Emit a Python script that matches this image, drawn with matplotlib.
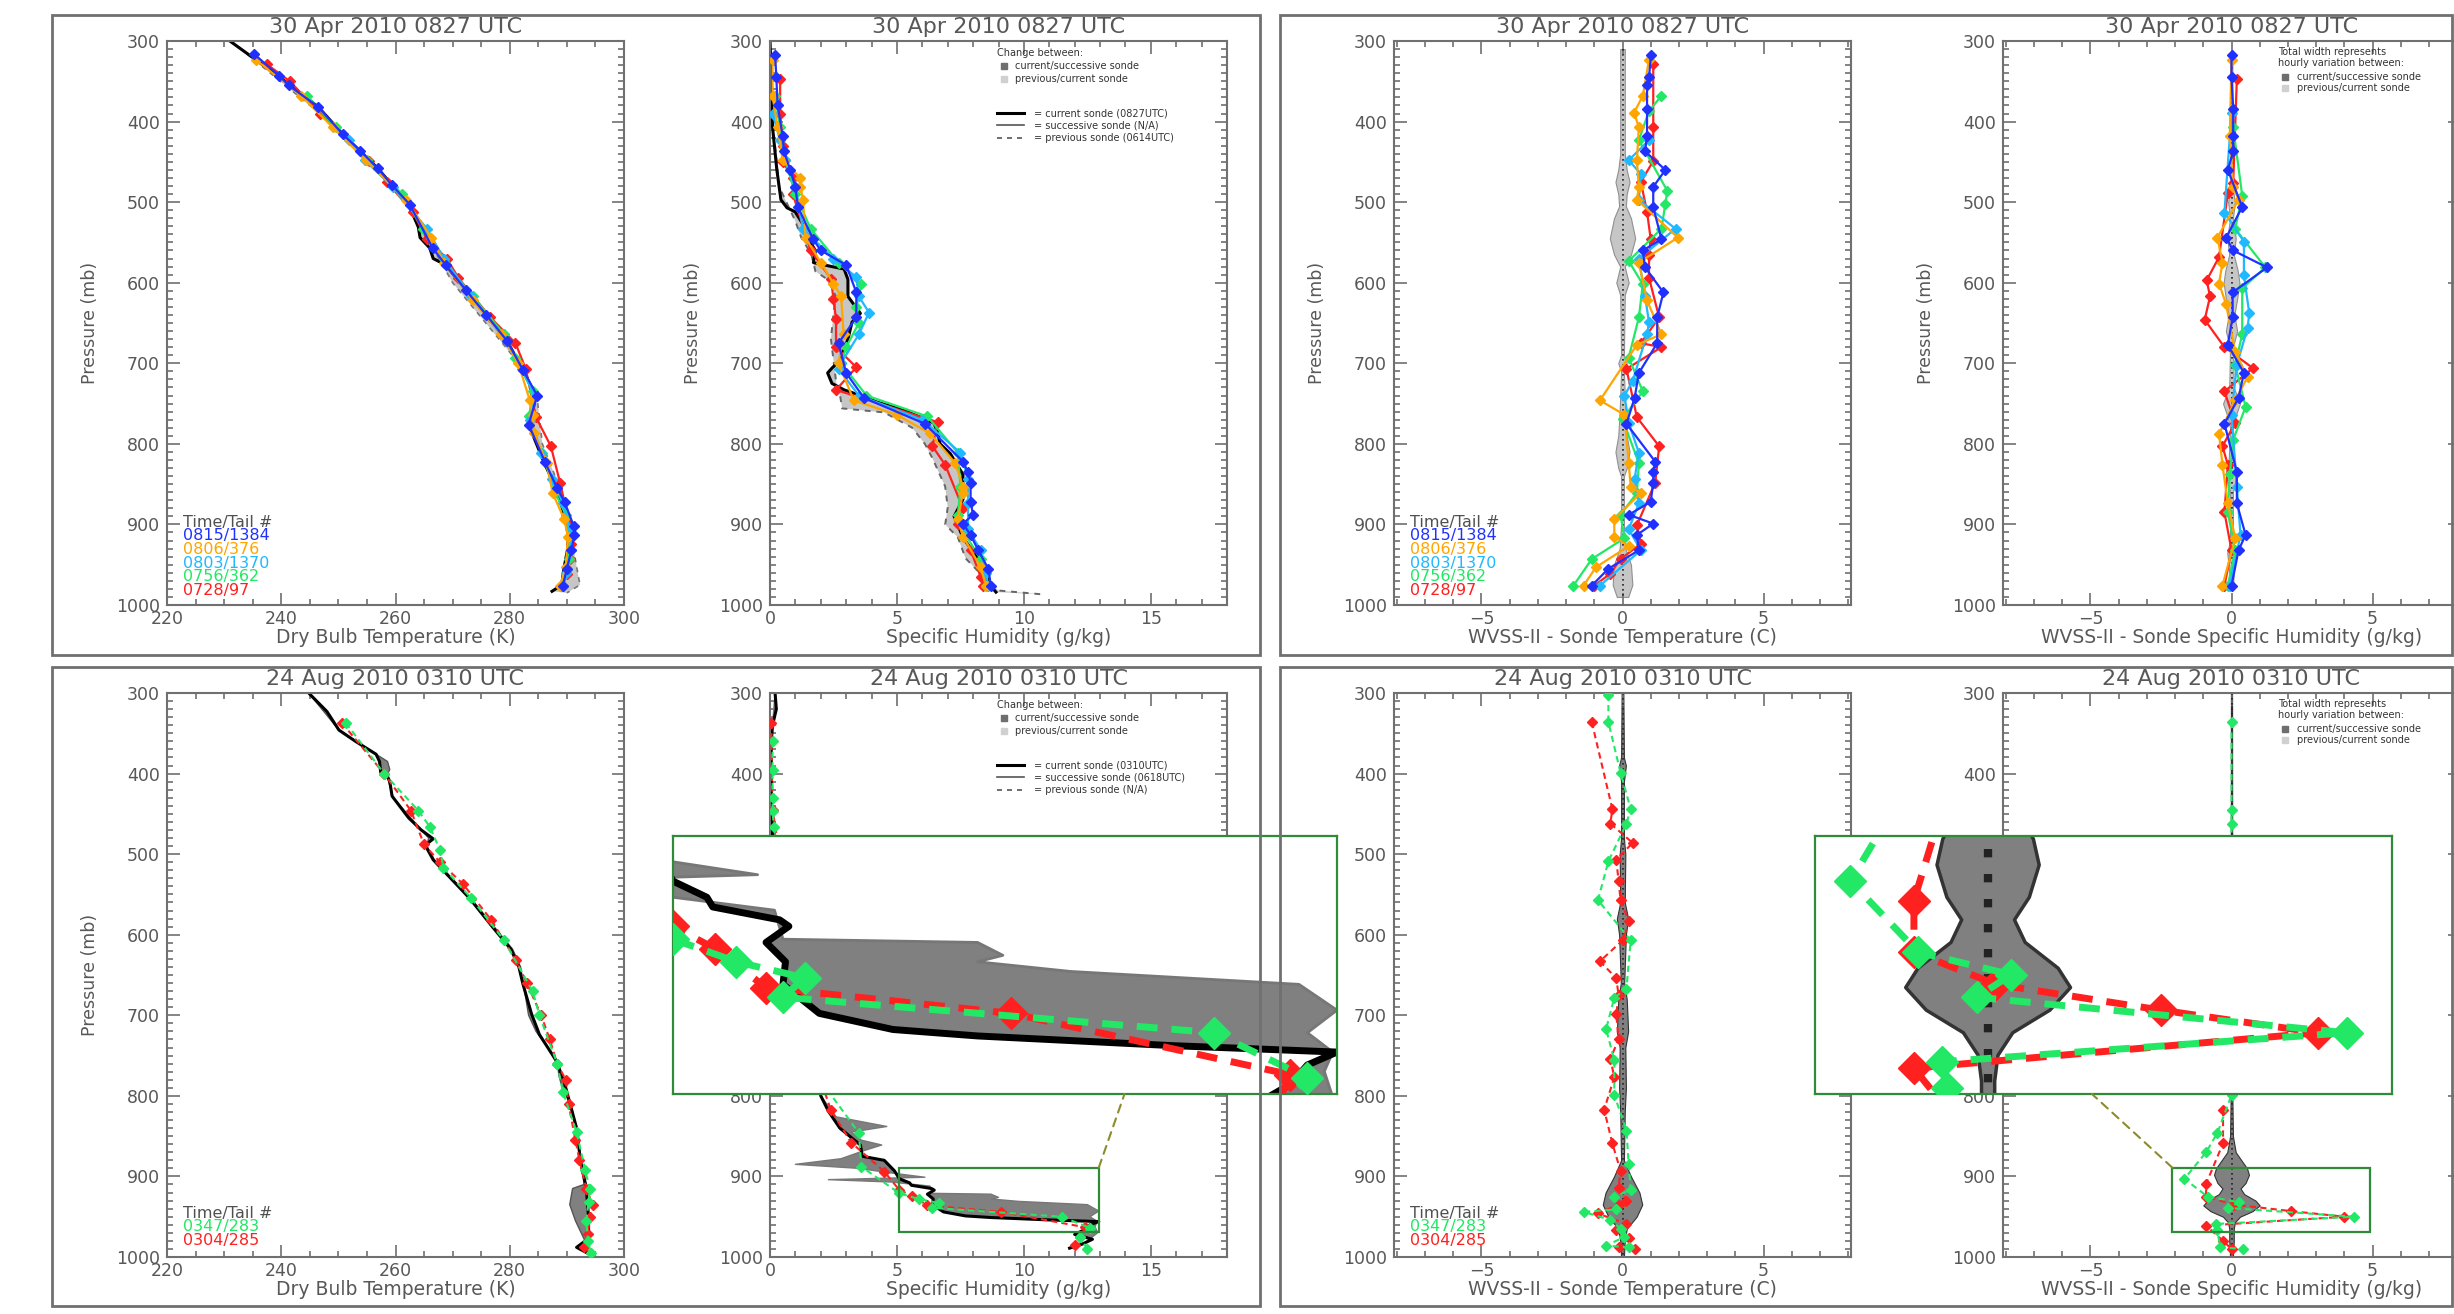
import numpy as np
import matplotlib
matplotlib.use('Agg')
import matplotlib.pyplot as plt
from matplotlib.patches import Rectangle, ConnectionPatch
from matplotlib.ticker import MultipleLocator

plt.rcParams['font.family'] = ['DejaVu Sans']

W, H = 2454, 1314
TXT = '#585858'
EDGE = '#707070'
C_BLUE, C_ORANGE, C_CYAN, C_GREEN, C_RED = '#2030ff', '#ffa500', '#20b8ff', '#22e866', '#ff2020'
LIGHT = '#c6c6c6'
DARK = '#808080'
BOXGREEN = '#2e8b3a'

# ---------------- 30 Apr 2010 0827 UTC ----------------
apr_title = '30 Apr 2010 0827 UTC'
apr_tails = ['0815/1384', '0806/376', '0803/1370', '0756/362', '0728/97']
apr_colors = [C_BLUE, C_ORANGE, C_CYAN, C_GREEN, C_RED]

# sonde temperature (K)
apr_cur_t_p = [300, 343, 382, 416, 436, 458, 479, 503, 531, 544, 557, 570, 578, 609, 640, 672, 708, 740, 766, 776, 823, 855, 902, 928, 954, 975, 983]
apr_cur_t = [231.0, 239.4, 246.5, 250.8, 253.7, 256.9, 259.4, 262.3, 264.0, 264.3, 266.0, 266.6, 268.8, 272.3, 275.9, 279.5, 282.3, 284.5, 283.9, 283.3, 286.0, 288.1, 290.2, 290.2, 289.5, 289.1, 287.4]
apr_prev_t_p = [300, 400, 500, 600, 700, 750, 800, 850, 900, 940, 960, 975, 985]
apr_prev_t = [231.2, 248.5, 262.0, 270.0, 281.6, 284.9, 285.7, 288.5, 290.8, 291.4, 291.9, 292.3, 290.0]

# aircraft temperature (K)
apr_t_blue_p = [316, 343, 355, 382, 416, 436, 458, 479, 503, 557, 578, 609, 640, 672, 708, 740, 776, 823, 855, 872, 902, 913, 932, 955, 976]
apr_t_blue = [235.2, 239.6, 241.3, 246.5, 250.8, 253.8, 256.9, 259.4, 262.5, 266.5, 268.8, 272.3, 275.9, 279.5, 282.3, 284.8, 283.3, 286.2, 288.3, 289.6, 291.2, 291.3, 290.8, 290.0, 289.3]
apr_t_orange_p = [323, 368, 407, 448, 497, 544, 575, 622, 664, 700, 746, 764, 787, 824, 861, 893, 915, 953, 976]
apr_t_orange = [235.5, 243.5, 249.0, 254.8, 261.8, 266.3, 268.5, 273.5, 278.5, 281.5, 283.5, 284.0, 284.3, 286.5, 287.5, 289.5, 290.2, 289.8, 288.8]
apr_t_cyan_p = [423, 448, 481, 533, 570, 617, 664, 707, 740, 770, 811, 843, 874, 906, 932, 960, 976]
apr_t_cyan = [251.8, 254.6, 259.5, 265.5, 268.5, 273.2, 278.4, 282.1, 284.4, 283.6, 285.5, 287.4, 289.3, 290.6, 290.8, 289.9, 289.4]
apr_t_green_p = [368, 407, 448, 490, 533, 575, 617, 664, 693, 735, 766, 811, 861, 888, 917, 943, 976]
apr_t_green = [244.5, 249.5, 255.0, 261.2, 264.8, 268.7, 273.5, 279.0, 281.0, 284.0, 283.4, 285.6, 288.0, 289.8, 290.5, 290.3, 289.0]
apr_t_red_p = [329, 350, 390, 449, 475, 512, 546, 570, 594, 643, 675, 707, 767, 803, 848, 901, 924, 943, 961, 976]
apr_t_red = [237.5, 241.5, 246.8, 255.4, 258.5, 263.0, 265.5, 269.0, 271.0, 276.6, 281.0, 282.8, 284.6, 287.2, 288.8, 290.5, 290.8, 290.5, 290.0, 289.2]

# sonde specific humidity (g/kg)
apr_cur_q_p = [300, 355, 407, 460, 497, 507, 512, 528, 544, 560, 575, 580, 583, 596, 617, 638, 649, 670, 696, 706, 712, 725, 733, 740, 748, 759, 774, 785, 800, 812, 838, 869, 890, 916, 937, 958, 973, 984]
apr_cur_q = [0.0, 0.06, 0.1, 0.27, 0.43, 0.67, 0.99, 1.31, 1.47, 1.79, 1.71, 2.44, 2.92, 3.07, 3.07, 3.56, 3.23, 3.07, 2.76, 2.44, 2.27, 2.44, 2.92, 3.56, 4.2, 5.33, 6.45, 6.6, 6.7, 7.1, 7.6, 7.6, 7.25, 7.6, 8.06, 8.5, 8.6, 8.9]
apr_prev_q_p = [300, 400, 460, 480, 523, 544, 565, 586, 596, 617, 638, 670, 722, 740, 756, 761, 780, 800, 818, 832, 853, 879, 900, 916, 942, 968, 982, 987]
apr_prev_q = [0.0, 0.1, 0.3, 0.35, 0.99, 1.23, 1.63, 1.79, 2.27, 2.6, 2.5, 2.4, 2.6, 2.76, 2.84, 4.5, 5.6, 6.1, 6.4, 6.6, 6.9, 7.0, 6.9, 7.4, 7.7, 8.5, 9.0, 10.8]

# aircraft specific humidity (g/kg)
apr_q_blue_p = [317, 345, 380, 418, 437, 460, 481, 506, 546, 560, 578, 612, 643, 675, 712, 743, 775, 822, 835, 848, 872, 888, 899, 913, 932, 955, 976]
apr_q_blue = [0.2, 0.25, 0.3, 0.5, 0.55, 0.8, 1.0, 1.1, 1.7, 2.0, 3.0, 3.4, 3.4, 2.7, 3.0, 3.7, 6.1, 7.6, 7.8, 7.9, 7.9, 8.0, 7.6, 7.9, 8.2, 8.6, 8.7]
apr_q_orange_p = [323, 368, 407, 448, 470, 481, 497, 544, 575, 601, 617, 664, 700, 746, 764, 787, 824, 853, 861, 893, 915, 953, 976]
apr_q_orange = [0.1, 0.1, 0.3, 0.5, 1.2, 1.2, 1.3, 1.4, 2.0, 2.5, 2.8, 2.9, 2.7, 3.3, 5.0, 6.3, 7.3, 7.6, 7.6, 7.4, 7.6, 8.3, 8.5]
apr_q_cyan_p = [390, 423, 448, 481, 533, 570, 593, 617, 637, 664, 700, 707, 740, 770, 811, 843, 874, 906, 932, 960, 976]
apr_q_cyan = [0.1, 0.4, 0.6, 1.0, 1.3, 2.5, 3.4, 3.5, 3.9, 3.5, 2.8, 2.7, 3.5, 6.0, 7.5, 7.8, 7.8, 7.8, 8.3, 8.5, 8.6]
apr_q_green_p = [368, 407, 448, 490, 533, 575, 602, 630, 650, 680, 700, 740, 766, 811, 853, 888, 913, 943, 976]
apr_q_green = [0.2, 0.4, 0.6, 1.0, 1.6, 2.7, 3.6, 3.4, 3.5, 3.0, 2.8, 3.8, 6.2, 7.4, 7.5, 7.4, 7.7, 8.3, 8.5]
apr_q_red_p = [347, 390, 430, 450, 470, 490, 560, 595, 620, 645, 680, 705, 733, 773, 803, 826, 880, 900, 932, 965, 976]
apr_q_red = [0.4, 0.4, 0.5, 0.5, 0.9, 0.9, 1.6, 2.4, 2.5, 2.6, 2.6, 3.4, 2.6, 6.6, 6.4, 6.9, 7.6, 7.4, 7.9, 8.3, 8.4]

# WVSS-II minus sonde temperature (C)
apr_dt_blue_p = [317, 345, 355, 384, 418, 437, 460, 481, 506, 546, 560, 581, 612, 643, 675, 712, 743, 775, 822, 835, 848, 872, 888, 899, 913, 932, 955, 976]
apr_dt_blue = [1.01, 0.94, 0.87, 0.87, 0.87, 0.8, 1.52, 1.09, 1.09, 1.38, 0.72, 0.8, 1.45, 1.23, 1.23, 0.58, 0.43, 0.14, 1.16, 1.09, 1.09, 1.0, 0.22, 1.09, 0.51, 0.58, -0.5, -1.09]
apr_dt_orange_p = [323, 368, 389, 407, 448, 481, 497, 544, 575, 622, 664, 677, 746, 764, 824, 853, 861, 893, 915, 927, 953, 976]
apr_dt_orange = [0.94, 0.72, 0.41, 0.58, 0.51, 0.58, 0.51, 1.96, 0.58, 0.87, 1.38, 0.51, -0.8, 0.07, 0.22, 0.29, 0.65, -0.29, -0.29, 0.22, -0.94, -1.38]
apr_dt_cyan_p = [423, 448, 465, 497, 533, 570, 617, 649, 664, 722, 740, 774, 811, 843, 874, 906, 932, 976]
apr_dt_cyan = [0.94, 0.22, 0.65, 0.58, 1.88, 0.58, 0.8, 0.94, 0.87, 0.36, 0.07, 0.22, 0.58, 0.43, 0.58, 0.22, 0.65, -0.8]
apr_dt_green_p = [368, 387, 423, 486, 502, 533, 573, 602, 643, 693, 735, 769, 824, 861, 888, 917, 943, 976]
apr_dt_green = [1.38, 0.94, 0.58, 1.59, 1.52, 1.38, 0.22, 0.72, 0.58, 0.22, 0.72, 0.0, 0.58, 0.51, -0.07, 0.07, -1.09, -1.74]
apr_dt_red_p = [329, 407, 449, 475, 512, 546, 565, 594, 643, 675, 680, 707, 767, 803, 848, 901, 924, 943, 961, 976]
apr_dt_red = [1.09, 1.09, 1.09, 0.65, 0.87, 1.0, 0.94, 0.94, 1.3, 0.65, 1.38, 0.14, 0.51, 1.3, 1.16, 0.51, 0.65, -0.07, -0.43, -1.0]
apr_dt_band_p = [310, 440, 460, 475, 490, 505, 520, 545, 565, 580, 600, 615, 690, 700, 710, 760, 790, 810, 830, 840, 900, 930, 950, 975, 990]
apr_dt_band = [0.08, 0.08, 0.15, 0.25, 0.15, 0.12, 0.3, 0.45, 0.3, 0.08, 0.22, 0.08, 0.05, 0.15, 0.05, 0.1, 0.15, 0.25, 0.15, 0.05, 0.05, 0.1, 0.3, 0.35, 0.2]

# WVSS-II minus sonde specific humidity (g/kg)
apr_dq_blue_p = [317, 345, 384, 418, 437, 460, 506, 544, 560, 581, 612, 643, 677, 712, 743, 775, 835, 874, 913, 932, 976]
apr_dq_blue = [0.0, 0.0, 0.06, 0.06, 0.06, -0.13, 0.38, -0.19, 0.06, 1.26, 0.04, 0.04, -0.13, 0.44, 0.25, -0.25, 0.19, 0.19, 0.5, 0.25, 0.0]
apr_dq_orange_p = [323, 418, 481, 497, 544, 575, 601, 627, 686, 717, 746, 788, 826, 874, 917, 976]
apr_dq_orange = [0.0, -0.06, 0.06, 0.25, -0.5, -0.32, -0.44, -0.19, 0.13, 0.57, 0.13, -0.44, -0.32, -0.13, 0.13, -0.32]
apr_dq_cyan_p = [389, 513, 549, 591, 638, 656, 702, 764, 853, 913, 976]
apr_dq_cyan = [0.0, -0.25, 0.44, 0.44, 0.63, 0.57, 0.19, 0.0, 0.19, 0.32, -0.06]
apr_dq_green_p = [407, 492, 533, 581, 607, 664, 702, 754, 795, 838, 885, 932, 976]
apr_dq_green = [0.06, 0.38, 0.13, 1.2, 0.38, 0.38, 0.13, 0.5, 0.06, -0.06, -0.13, 0.13, -0.13]
apr_dq_red_p = [347, 476, 489, 568, 597, 617, 646, 680, 706, 735, 774, 803, 826, 885, 932, 976]
apr_dq_red = [0.19, 0.06, -0.13, -0.44, -0.88, -0.76, -0.95, -0.25, 0.76, -0.25, 0.13, -0.32, -0.13, -0.25, 0.0, -0.25]
apr_dq_band_p = [320, 480, 500, 520, 545, 565, 585, 600, 620, 640, 660, 680, 730, 750, 765, 780, 820, 840, 860, 920, 935, 960, 980]
apr_dq_band = [0.03, 0.03, 0.12, 0.05, 0.15, 0.08, 0.22, 0.28, 0.2, 0.1, 0.2, 0.05, 0.08, 0.3, 0.15, 0.05, 0.1, 0.18, 0.05, 0.05, 0.15, 0.08, 0.05]

# ---------------- 24 Aug 2010 0310 UTC ----------------
aug_title = '24 Aug 2010 0310 UTC'
aug_tails = ['0347/283', '0304/285']
aug_colors = [C_GREEN, C_RED]

aug_cur_t_p = [300, 323, 346, 360, 376, 385, 398, 402, 410, 428, 455, 470, 481, 489, 507, 534, 555, 587, 618, 640, 661, 698, 724, 756, 782, 819, 840, 882, 914, 951, 977, 988, 996]
aug_cur_t = [244.8, 248.0, 250.1, 253.0, 256.6, 257.2, 257.4, 258.5, 259.0, 259.4, 262.3, 264.5, 266.6, 265.2, 266.6, 270.2, 273.0, 276.6, 280.2, 281.6, 282.3, 283.8, 285.2, 288.1, 289.5, 290.9, 291.7, 292.4, 293.4, 293.8, 293.8, 291.7, 293.8]
aug_suc_t_p = [300, 346, 376, 385, 395, 402, 430, 470, 480, 490, 507, 555, 618, 640, 700, 720, 756, 775, 785, 795, 819, 882, 910, 915, 935, 955, 970, 985, 996]
aug_suc_t = [244.8, 250.1, 256.6, 258.6, 259.0, 258.5, 259.6, 264.5, 265.8, 265.5, 266.8, 273.2, 280.5, 281.9, 283.3, 284.6, 288.3, 288.6, 289.0, 289.6, 291.0, 292.6, 293.0, 291.0, 290.5, 291.5, 292.5, 293.5, 293.8]
aug_t_green_p = [337, 400, 446, 466, 495, 517, 555, 607, 670, 700, 760, 795, 845, 892, 915, 932, 955, 980, 995]
aug_t_green = [251.3, 258.0, 264.0, 266.0, 267.8, 268.4, 273.3, 279.0, 284.0, 285.2, 288.3, 289.3, 291.7, 293.2, 294.0, 293.8, 293.4, 293.7, 294.2]
aug_t_red_p = [337, 400, 446, 488, 510, 537, 582, 632, 660, 700, 730, 760, 780, 810, 855, 880, 915, 935, 950, 972, 988]
aug_t_red = [250.6, 258.0, 262.7, 265.0, 267.8, 271.8, 276.8, 281.1, 283.0, 285.5, 287.0, 288.3, 289.8, 290.3, 291.5, 292.2, 293.4, 294.5, 294.0, 293.7, 293.0]

aug_cur_q_p = [300, 320, 340, 360, 440, 480, 560, 650, 750, 800, 819, 840, 861, 875, 880, 893, 903, 908, 911, 915, 917, 922, 928, 935, 944, 949, 951, 954, 956, 960, 966, 972, 978, 984, 989]
aug_cur_q = [0.2, 0.25, 0.1, 0.05, 0.05, 0.1, 0.6, 1.2, 1.8, 2.0, 2.3, 2.75, 3.56, 3.64, 4.5, 4.9, 5.1, 5.5, 5.57, 6.36, 6.47, 6.2, 6.43, 6.4, 6.83, 7.7, 8.7, 11.0, 12.95, 12.6, 12.4, 12.0, 12.7, 12.3, 11.8]
aug_suc_q_p = [300, 360, 440, 560, 650, 750, 800, 817, 826, 838, 845, 855, 861, 868, 878, 885, 890, 895, 901, 904, 907, 912, 921, 922, 926, 928, 931, 935, 943, 950, 956, 962, 970, 980, 989]
aug_suc_q = [0.2, 0.05, 0.05, 0.6, 1.2, 1.8, 2.0, 2.4, 2.6, 4.6, 3.2, 3.6, 4.4, 3.7, 2.8, 1.0, 3.5, 4.6, 6.1, 2.3, 4.8, 6.3, 6.4, 8.7, 9.0, 8.7, 9.8, 12.5, 12.95, 12.6, 12.9, 12.8, 12.9, 12.5, 12.0]
aug_q_green_p = [360, 395, 430, 447, 466, 560, 680, 790, 846, 888, 921, 928, 933, 939, 950, 964, 975, 990]
aug_q_green = [0.1, 0.1, 0.1, 0.1, 0.15, 0.6, 1.3, 2.2, 3.5, 3.6, 5.1, 5.85, 6.66, 6.4, 11.5, 12.6, 12.2, 12.5]
aug_q_red_p = [337, 445, 600, 700, 790, 818, 858, 894, 917, 924, 936, 944, 963, 975, 985]
aug_q_red = [0.05, 0.1, 0.9, 1.5, 2.1, 2.4, 3.2, 4.5, 5.1, 5.6, 6.2, 9.1, 12.4, 12.2, 12.0]

aug_dt_green_p = [302, 336, 399, 444, 462, 509, 557, 607, 667, 678, 717, 756, 799, 843, 885, 917, 925, 941, 944, 954, 965, 975, 986, 988]
aug_dt_green = [-0.5, -0.5, -0.07, 0.29, 0.14, -0.5, -0.87, 0.29, 0.14, -0.29, -0.58, -0.29, -0.29, 0.14, 0.22, 0.29, -0.29, -0.22, -1.37, -0.43, -0.07, 0.07, -0.58, 0.22]
aug_dt_red_p = [336, 444, 462, 486, 507, 533, 557, 583, 607, 633, 654, 675, 699, 730, 754, 777, 817, 859, 893, 914, 930, 935, 946, 959, 967, 977, 988, 990]
aug_dt_red = [-1.09, -0.36, -0.43, 0.36, -0.22, -0.14, -0.07, 0.22, 0.0, -0.8, -0.22, -0.14, -0.22, -0.14, -0.43, -0.29, -0.65, -0.36, -0.07, -0.14, 0.14, -0.14, -0.87, 0.14, -0.22, 0.22, -0.14, 0.43]
aug_dt_band_p = [300, 380, 390, 410, 480, 500, 560, 580, 600, 640, 660, 680, 720, 740, 790, 820, 880, 900, 920, 935, 950, 965, 980, 1000]
aug_dt_band = [0.03, 0.05, 0.12, 0.05, 0.05, 0.1, 0.08, 0.2, 0.12, 0.08, 0.06, 0.15, 0.2, 0.1, 0.12, 0.08, 0.05, 0.3, 0.6, 0.7, 0.5, 0.15, 0.08, 0.05]

aug_dq_green_p = [336, 445, 462, 560, 700, 799, 846, 870, 903, 925, 932, 939, 950, 959, 967, 988, 990]
aug_dq_green = [0.0, 0.0, 0.0, 0.0, 0.0, 0.0, -0.5, -0.9, -1.67, -0.85, 0.28, -0.14, 4.35, -0.56, -0.5, -0.4, 0.4]
aug_dq_red_p = [817, 859, 909, 925, 935, 943, 950, 961, 980, 990]
aug_dq_red = [-0.3, -0.3, -0.9, -0.9, 0.1, 2.1, 4.0, -0.9, -0.3, 0.0]
aug_dq_band_p = [300, 800, 850, 870, 880, 890, 898, 908, 915, 922, 930, 936, 943, 950, 957, 965, 980, 1000]
aug_dq_band = [0.02, 0.03, 0.05, 0.15, 0.35, 0.55, 0.62, 0.5, 0.32, 0.45, 0.85, 1.0, 0.75, 0.3, 0.12, 0.08, 0.08, 0.05]

# zoom windows shown in the insets (value range, pressure range)
zoom_q = (5.1, 12.95, 889, 969)
zoom_dq = (-2.1, 4.9, 889, 969)


def fig_rect(x0, y0, x1, y1):
    return [x0 / W, 1 - y1 / H, (x1 - x0) / W, (y1 - y0) / H]


def setup(ax, xlim, xticks, minor, xlabel, title):
    ax.set_xlim(*xlim)
    ax.set_ylim(1000, 300)
    ax.set_xticks(xticks)
    ax.xaxis.set_minor_locator(MultipleLocator(minor))
    ax.set_yticks(range(300, 1001, 100))
    ax.yaxis.set_minor_locator(MultipleLocator(10))
    ax.tick_params(which='both', direction='in', top=True, right=True,
                   colors=EDGE, labelcolor=TXT, labelsize=12.5, width=1.2)
    ax.tick_params(which='major', length=9, pad=5)
    ax.tick_params(axis='x', which='major', pad=3.5)
    ax.tick_params(which='minor', length=4.5)
    for s in ax.spines.values():
        s.set_color(EDGE)
        s.set_linewidth(1.5)
    ax.set_xlabel(xlabel, fontsize=13.5, color=TXT)
    ax.xaxis.set_label_coords(0.5, -0.057)
    ax.xaxis.label.set_va('center')
    ax.set_ylabel('Pressure (mb)', fontsize=12.5, color=TXT)
    ax.yaxis.set_label_coords(-0.168, 0.5)
    ax.yaxis.label.set_va('center')
    ax.text(0.5, 1.025, title, transform=ax.transAxes, ha='center', va='center',
            fontsize=16, color=TXT)


def aircraft(ax, p, v, c, dashed=False, lw=1.6, ms=5.5, z=3):
    if dashed:
        ax.plot(v, p, color=c, lw=lw, ls=(0, (3, 2)), marker='D', ms=ms, mec=c, mfc=c, zorder=z)
    else:
        ax.plot(v, p, color=c, lw=lw, marker='D', ms=ms, mec=c, mfc=c, zorder=z)


def band_between(ax, p1, v1, p2, v2, color, z=1):
    # polygon between two sonde profiles
    xs = list(v1) + list(v2)[::-1]
    ys = list(p1) + list(p2)[::-1]
    ax.fill(xs, ys, color=color, lw=0, zorder=z)


def variation(ax, p, w, color, edge, lw=0.8, dot_lw=1.2):
    p = np.array(p)
    w = np.array(w)
    ax.fill_betweenx(p, -w, w, color=color, edgecolor=edge, lw=lw, zorder=1)
    ax.plot(np.zeros(len(p)), p, ls=(0, (1, 2)), color='#222222', lw=dot_lw, zorder=2)


def tail_legend(ax, tails, colors, y0):
    ax.text(0.035, y0, 'Time/Tail #', transform=ax.transAxes, fontsize=11.5, color='#505050', va='center')
    for i, (t, c) in enumerate(zip(tails, colors)):
        ax.text(0.035, y0 - 0.0243 * (i + 1), t, transform=ax.transAxes, fontsize=11.5, color=c, va='center')


def sonde_legend(ax, cur, suc, prev):
    kw = dict(transform=ax.transAxes, fontsize=7, color='#333333', va='center')
    ax.text(0.497, 0.979, 'Change between:', **kw)
    ax.plot([0.512], [0.956], 's', ms=4.5, color='#6e6e6e', transform=ax.transAxes)
    ax.text(0.536, 0.956, 'current/successive sonde', **kw)
    ax.plot([0.512], [0.933], 's', ms=4.5, color='#d0d0d0', transform=ax.transAxes)
    ax.text(0.536, 0.933, 'previous/current sonde', **kw)
    ax.plot([0.497, 0.556], [0.872, 0.872], color='k', lw=2.2, transform=ax.transAxes)
    ax.text(0.578, 0.872, '= current sonde (%s)' % cur, **kw)
    ax.plot([0.497, 0.556], [0.851, 0.851], color='#555555', lw=1.2, transform=ax.transAxes)
    ax.text(0.578, 0.851, '= successive sonde (%s)' % suc, **kw)
    ax.plot([0.497, 0.556], [0.828, 0.828], color='#555555', lw=1.2, ls=(0, (3, 3)), transform=ax.transAxes)
    ax.text(0.578, 0.828, '= previous sonde (%s)' % prev, **kw)


def width_legend(ax):
    kw = dict(transform=ax.transAxes, fontsize=7, color='#333333', va='center')
    ax.text(0.602, 0.980, 'Total width represents', **kw)
    ax.text(0.602, 0.961, 'hourly variation between:', **kw)
    ax.plot([0.617], [0.937], 's', ms=4.5, color='#6e6e6e', transform=ax.transAxes)
    ax.text(0.643, 0.937, 'current/successive sonde', **kw)
    ax.plot([0.617], [0.916], 's', ms=4.5, color='#d0d0d0', transform=ax.transAxes)
    ax.text(0.643, 0.916, 'previous/current sonde', **kw)


fig = plt.figure(figsize=(W / 100, H / 100), dpi=100)
fig.patch.set_facecolor('white')

# outer frames
for (x0, y0, x1, y1) in [(52, 15, 1260, 655), (1280, 15, 2452, 655),
                         (52, 667, 1260, 1306), (1280, 667, 2452, 1306)]:
    fig.add_artist(Rectangle((x0 / W, 1 - y1 / H), (x1 - x0) / W, (y1 - y0) / H,
                             transform=fig.transFigure, fill=False, ec=EDGE, lw=2))

cols = [167, 770, 1394, 2003]
AXW = 457
rows = [(41, 605), (693, 1257)]
axes = [[fig.add_axes(fig_rect(c, r[0], c + AXW, r[1])) for c in cols] for r in rows]

T_LAB = 'Dry Bulb Temperature (K)'
Q_LAB = 'Specific Humidity (g/kg)'
DT_LAB = 'WVSS-II - Sonde Temperature (C)'
DQ_LAB = 'WVSS-II - Sonde Specific Humidity (g/kg)'

# ---------- top row ----------
a1, a2, a3, a4 = axes[0]
setup(a1, (220, 300), [220, 240, 260, 280, 300], 5, T_LAB, apr_title)
setup(a2, (0, 18), [0, 5, 10, 15], 1, Q_LAB, apr_title)
setup(a3, (-8.1, 8.1), [-5, 0, 5], 1, DT_LAB, apr_title)
setup(a4, (-8.1, 8.1), [-5, 0, 5], 1, DQ_LAB, apr_title)

band_between(a1, apr_cur_t_p, apr_cur_t, apr_prev_t_p, apr_prev_t, LIGHT)
a1.plot(apr_prev_t, apr_prev_t_p, color='#777777', lw=1.2, ls=(0, (3, 3)), zorder=2)
a1.plot(apr_cur_t, apr_cur_t_p, color='k', lw=2.2, zorder=2)
for p, v, c in [(apr_t_red_p, apr_t_red, C_RED), (apr_t_green_p, apr_t_green, C_GREEN),
                (apr_t_cyan_p, apr_t_cyan, C_CYAN), (apr_t_orange_p, apr_t_orange, C_ORANGE),
                (apr_t_blue_p, apr_t_blue, C_BLUE)]:
    aircraft(a1, p, v, c)
tail_legend(a1, apr_tails, apr_colors, 0.147)

band_between(a2, apr_cur_q_p, apr_cur_q, apr_prev_q_p, apr_prev_q, LIGHT)
a2.plot(apr_prev_q, apr_prev_q_p, color='#666666', lw=1.4, ls=(0, (3, 3)), zorder=2)
a2.plot(apr_cur_q, apr_cur_q_p, color='k', lw=2.2, zorder=2)
for p, v, c in [(apr_q_red_p, apr_q_red, C_RED), (apr_q_green_p, apr_q_green, C_GREEN),
                (apr_q_cyan_p, apr_q_cyan, C_CYAN), (apr_q_orange_p, apr_q_orange, C_ORANGE),
                (apr_q_blue_p, apr_q_blue, C_BLUE)]:
    aircraft(a2, p, v, c)
sonde_legend(a2, '0827UTC', 'N/A', '0614UTC')

variation(a3, apr_dt_band_p, apr_dt_band, LIGHT, '#909090')
for p, v, c in [(apr_dt_red_p, apr_dt_red, C_RED), (apr_dt_green_p, apr_dt_green, C_GREEN),
                (apr_dt_cyan_p, apr_dt_cyan, C_CYAN), (apr_dt_orange_p, apr_dt_orange, C_ORANGE),
                (apr_dt_blue_p, apr_dt_blue, C_BLUE)]:
    aircraft(a3, p, v, c)
tail_legend(a3, apr_tails, apr_colors, 0.147)

variation(a4, apr_dq_band_p, apr_dq_band, LIGHT, '#909090')
for p, v, c in [(apr_dq_red_p, apr_dq_red, C_RED), (apr_dq_green_p, apr_dq_green, C_GREEN),
                (apr_dq_cyan_p, apr_dq_cyan, C_CYAN), (apr_dq_orange_p, apr_dq_orange, C_ORANGE),
                (apr_dq_blue_p, apr_dq_blue, C_BLUE)]:
    aircraft(a4, p, v, c)
width_legend(a4)

# ---------- bottom row ----------
b1, b2, b3, b4 = axes[1]
setup(b1, (220, 300), [220, 240, 260, 280, 300], 5, T_LAB, aug_title)
setup(b2, (0, 18), [0, 5, 10, 15], 1, Q_LAB, aug_title)
setup(b3, (-8.1, 8.1), [-5, 0, 5], 1, DT_LAB, aug_title)
setup(b4, (-8.1, 8.1), [-5, 0, 5], 1, DQ_LAB, aug_title)

band_between(b1, aug_cur_t_p, aug_cur_t, aug_suc_t_p, aug_suc_t, DARK)
b1.plot(aug_suc_t, aug_suc_t_p, color='#555555', lw=1.0, zorder=2)
b1.plot(aug_cur_t, aug_cur_t_p, color='k', lw=2.2, zorder=2)
aircraft(b1, aug_t_red_p, aug_t_red, C_RED, dashed=True, lw=1.5, ms=5)
aircraft(b1, aug_t_green_p, aug_t_green, C_GREEN, dashed=True, lw=1.5, ms=5)
tail_legend(b1, aug_tails, aug_colors, 0.078)


def draw_q_aug(ax, lw_cur, lw_air, ms, lw_suc):
    band_between(ax, aug_cur_q_p, aug_cur_q, aug_suc_q_p, aug_suc_q, DARK)
    ax.plot(aug_suc_q, aug_suc_q_p, color='#777777', lw=lw_suc, zorder=2)
    ax.plot(aug_cur_q, aug_cur_q_p, color='k', lw=lw_cur, zorder=2)
    aircraft(ax, aug_q_red_p, aug_q_red, C_RED, dashed=True, lw=lw_air, ms=ms)
    aircraft(ax, aug_q_green_p, aug_q_green, C_GREEN, dashed=True, lw=lw_air, ms=ms)


def draw_dq_aug(ax, lw_air, ms, lw_edge, dot_lw):
    variation(ax, aug_dq_band_p, aug_dq_band, DARK, '#333333', lw=lw_edge, dot_lw=dot_lw)
    aircraft(ax, aug_dq_red_p, aug_dq_red, C_RED, dashed=True, lw=lw_air, ms=ms)
    aircraft(ax, aug_dq_green_p, aug_dq_green, C_GREEN, dashed=True, lw=lw_air, ms=ms)


draw_q_aug(b2, 2.2, 1.5, 5, 1.0)
sonde_legend(b2, '0310UTC', '0618UTC', 'N/A')

variation(b3, aug_dt_band_p, aug_dt_band, DARK, '#333333')
aircraft(b3, aug_dt_red_p, aug_dt_red, C_RED, dashed=True, lw=1.5, ms=5)
aircraft(b3, aug_dt_green_p, aug_dt_green, C_GREEN, dashed=True, lw=1.5, ms=5)
tail_legend(b3, aug_tails, aug_colors, 0.078)

draw_dq_aug(b4, 1.5, 5, 0.8, 1.2)
width_legend(b4)

# ---------- zoom boxes and insets ----------
for ax, (x0, x1, p0, p1) in [(b2, zoom_q), (b4, zoom_dq)]:
    ax.add_patch(Rectangle((x0, p0), x1 - x0, p1 - p0, fill=False, ec=BOXGREEN, lw=1.6, zorder=5))

ins1 = fig.add_axes(fig_rect(673, 836, 1337, 1094))
draw_q_aug(ins1, 5, 5, 16, 2)
ins2 = fig.add_axes(fig_rect(1815, 836, 2392, 1094))
draw_dq_aug(ins2, 5, 16, 2.5, 6)

for ins, (x0, x1, p0, p1) in [(ins1, zoom_q), (ins2, zoom_dq)]:
    ins.set_xlim(x0, x1)
    ins.set_ylim(p1, p0)
    ins.set_xticks([])
    ins.set_yticks([])
    ins.set_facecolor('white')
    for s in ins.spines.values():
        s.set_color(BOXGREEN)
        s.set_linewidth(1.6)

con1 = ConnectionPatch(xyA=(zoom_q[1], zoom_q[2]), coordsA=b2.transData,
                       xyB=(0.68, 0.0), coordsB=ins1.transAxes,
                       ls=(0, (4, 3)), color='#8c8c2c', lw=1.5, zorder=4)
con2 = ConnectionPatch(xyA=(zoom_dq[0], zoom_dq[2]), coordsA=b4.transData,
                       xyB=(0.48, 0.0), coordsB=ins2.transAxes,
                       ls=(0, (4, 3)), color='#8c8c2c', lw=1.5, zorder=4)
fig.add_artist(con1)
fig.add_artist(con2)

fig.savefig('out.png', dpi=100, facecolor='white')
